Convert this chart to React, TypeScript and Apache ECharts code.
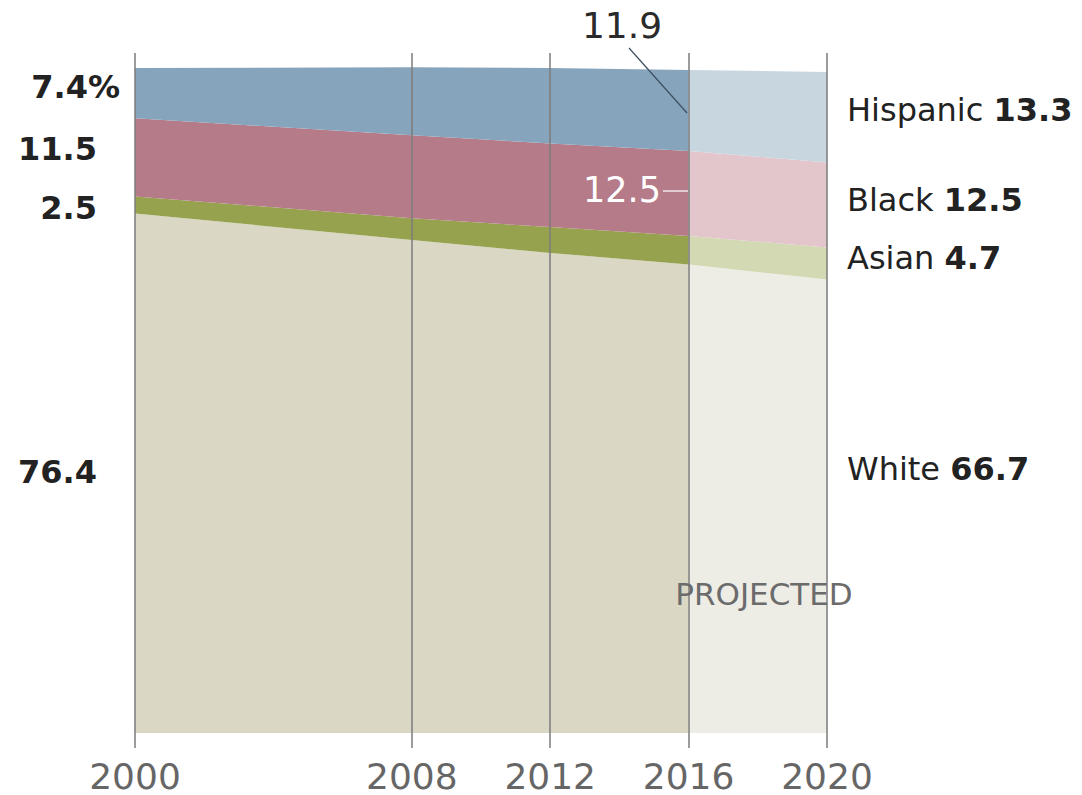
import React, { useEffect, useRef } from "react";
import * as echarts from "echarts";

// Actual data (2000–2016)
const years = [2000, 2008, 2012, 2016];
const white = [76.4, 72.5, 70.6, 68.9];
const asian = [2.5, 3.2, 3.8, 4.2];
const black = [11.5, 12.2, 12.3, 12.5];
const hispanic = [7.4, 10.0, 11.1, 11.9];

// Projected data (2016–2020)
const projYears = [2016, 2020];
const whiteProj = [68.9, 66.7];
const asianProj = [4.2, 4.7];
const blackProj = [12.5, 12.5];
const hispanicProj = [11.9, 13.3];

const tickYears = [2000, 2008, 2012, 2016, 2020];

const FONT = "DejaVu Sans";

// rows are [share, year] so that the share column is the one ECharts stacks
function rows(xs: number[], ys: number[]) {
  return xs.map((x, i) => [ys[i], x]);
}

function area(name: string, xs: number[], ys: number[], stack: string, color: string) {
  return {
    name,
    type: "line",
    stack,
    data: rows(xs, ys),
    encode: { x: 1, y: 0 },
    showSymbol: false,
    symbol: "none",
    smooth: false,
    lineStyle: { width: 0 },
    areaStyle: { color, opacity: 1 },
    silent: true,
  };
}

export default function App() {
  const ref = useRef<HTMLDivElement>(null);

  useEffect(() => {
    if (!ref.current) return;
    const chart = echarts.init(ref.current, undefined, { renderer: "svg" });

    const lastSeries: any = area("Hispanic (projected)", projYears, hispanicProj, "proj", "#c8d6e0");
    lastSeries.z = 3;
    lastSeries.markLine = {
      silent: true,
      symbol: ["none", "none"],
      label: { show: false },
      lineStyle: { color: "#7b7b7b", width: 1.5, type: "solid" },
      emphasis: { disabled: true },
      data: tickYears.map((y) => ({ xAxis: y })),
    };

    const option: any = {
      animation: false,
      grid: { left: 135, right: 255, top: 53, bottom: 62 },
      xAxis: {
        type: "value",
        min: 2000,
        max: 2020,
        axisLine: { show: false },
        splitLine: { show: false },
        axisTick: {
          show: true,
          customValues: tickYears,
          length: 15,
          lineStyle: { color: "#7b7b7b", width: 1.5 },
        },
        axisLabel: {
          customValues: tickYears,
          fontSize: 36,
          lineHeight: 30,
          fontFamily: FONT,
          color: "#666666",
          margin: 28,
          formatter: (v: number) => String(v),
        },
      },
      yAxis: { type: "value", min: 0, max: 100, show: false },
      series: [
        area("White", years, white, "actual", "#dad7c5"),
        area("Asian", years, asian, "actual", "#97a24f"),
        area("Black", years, black, "actual", "#b57b88"),
        area("Hispanic", years, hispanic, "actual", "#86a5bd"),
        area("White (projected)", projYears, whiteProj, "proj", "#edece5"),
        area("Asian (projected)", projYears, asianProj, "proj", "#d3d9b3"),
        area("Black (projected)", projYears, blackProj, "proj", "#e2c6cb"),
        lastSeries,
      ],
      graphic: [
        // Left labels
        { type: "text", x: 120, y: 87, z: 10, style: { text: "7.4%", align: "right", verticalAlign: "middle", font: `bold 32px "${FONT}"`, fill: "#222" } },
        { type: "text", x: 97, y: 149, z: 10, style: { text: "11.5", align: "right", verticalAlign: "middle", font: `bold 32px "${FONT}"`, fill: "#222" } },
        { type: "text", x: 97, y: 208, z: 10, style: { text: "2.5", align: "right", verticalAlign: "middle", font: `bold 32px "${FONT}"`, fill: "#222" } },
        { type: "text", x: 97, y: 472, z: 10, style: { text: "76.4", align: "right", verticalAlign: "middle", font: `bold 32px "${FONT}"`, fill: "#222" } },
        // Right labels
        ...[
          ["Hispanic", "13.3", 110],
          ["Black", "12.5", 200],
          ["Asian", "4.7", 258],
          ["White", "66.7", 469],
        ].map(([n, v, y]) => ({
          type: "text",
          x: 847,
          y: y as number,
          z: 10,
          style: {
            text: `{n|${n} }{b|${v}}`,
            verticalAlign: "middle",
            rich: {
              n: { fontFamily: FONT, fontSize: 32, fill: "#222", color: "#222" },
              b: { fontFamily: FONT, fontSize: 32, fontWeight: "bold", fill: "#222", color: "#222" },
            },
          },
        })),
        // 11.9 annotation
        { type: "text", x: 622, y: 25, z: 10, style: { text: "11.9", align: "center", verticalAlign: "middle", font: `36px "${FONT}"`, fill: "#2a2a2a" } },
        { type: "line", z: 10, shape: { x1: 629, y1: 48, x2: 687, y2: 113 }, style: { stroke: "#3d4f5f", lineWidth: 1.2 } },
        // 12.5 annotation
        { type: "text", x: 661, y: 190, z: 10, style: { text: "12.5", align: "right", verticalAlign: "middle", font: `35px "${FONT}"`, fill: "#ffffff" } },
        { type: "line", z: 10, shape: { x1: 663, y1: 191, x2: 688, y2: 191 }, style: { stroke: "#f4e6ea", lineWidth: 1.5 } },
        // Projected label
        { type: "text", x: 764, y: 594, z: 10, style: { text: "PROJECTED", align: "center", verticalAlign: "middle", font: `31px "${FONT}"`, fill: "#6b6b6b" } },
      ],
    };

    chart.setOption(option);
    return () => chart.dispose();
  }, []);

  return (
    <div
      ref={ref}
      style={{ position: "fixed", left: 0, top: 0, width: 1082, height: 795, background: "#ffffff" }}
    />
  );
}
